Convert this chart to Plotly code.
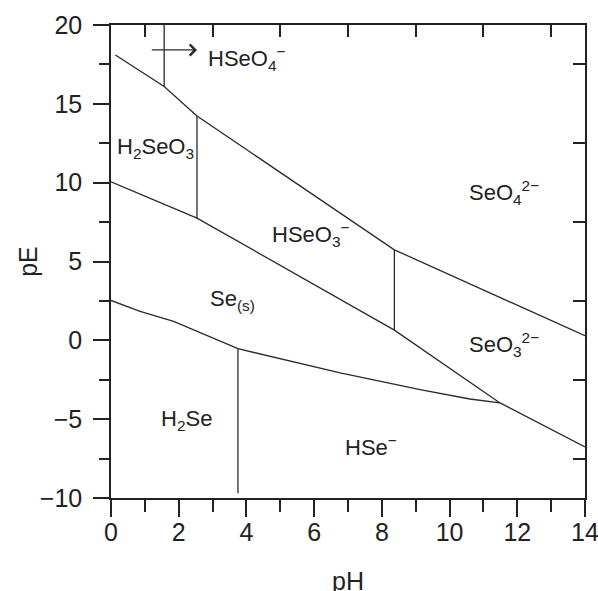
import plotly.graph_objects as go

# ---- data (pH, pE) ----
upper_ph = [0.13, 1.57, 2.54, 8.37, 14.0]
upper_pe = [18.1, 16.1, 14.23, 5.74, 0.29]

middle_ph = [0.0, 2.54, 8.37, 11.49, 14.0]
middle_pe = [10.05, 7.75, 0.65, -3.97, -6.76]

lower_ph = [0.0, 0.86, 1.85, 3.75, 6.77, 9.13, 10.6, 11.49]
lower_pe = [2.53, 1.83, 1.2, -0.53, -2.07, -3.13, -3.72, -3.97]

# vertical boundaries
vert_ph = [1.57, 2.54, 8.37, 3.75]
vert_lo = [16.1, 7.75, 0.65, -9.7]
vert_hi = [20.0, 14.23, 5.74, -0.53]

# arrow toward HSeO4- field
arrow_ph = [1.16, 2.54]
arrow_pe = 18.42

# species labels (left edge pH, centre pE)
label_text = [
    "HSeO<sub>4</sub><sup>−</sup>",
    "H<sub>2</sub>SeO<sub>3</sub>",
    "SeO<sub>4</sub><sup>2−</sup>",
    "HSeO<sub>3</sub><sup>−</sup>",
    "Se<sub>(s)</sub>",
    "SeO<sub>3</sub><sup>2−</sup>",
    "H<sub>2</sub>Se",
    "HSe<sup>−</sup>",
]
label_ph = [2.80, 0.13, 10.51, 4.70, 2.87, 10.51, 1.43, 6.84]
label_pe = [17.9, 12.2, 9.35, 6.69, 2.57, -0.28, -5.03, -6.68]

x_major = [0, 2, 4, 6, 8, 10, 12, 14]
x_minor = [1, 3, 5, 7, 9, 11, 13]
y_major = [-10, -5, 0, 5, 10, 15, 20]
y_minor = [-7.5, -2.5, 2.5, 7.5, 12.5, 17.5]

FONT = "Liberation Sans, Arial, Helvetica, sans-serif"
INK = "#222222"
LINE = "#2a2a2a"

fig = go.Figure()
line_style = dict(color=LINE, width=1.3)
for xs, ys in [(upper_ph, upper_pe), (middle_ph, middle_pe), (lower_ph, lower_pe)]:
    fig.add_trace(go.Scatter(x=xs, y=ys, mode="lines", line=line_style,
                             showlegend=False, hoverinfo="skip"))
for xv, lo, hi in zip(vert_ph, vert_lo, vert_hi):
    fig.add_trace(go.Scatter(x=[xv, xv], y=[lo, hi], mode="lines", line=line_style,
                             showlegend=False, hoverinfo="skip"))
# dummy trace for the mirrored top/right axes
fig.add_trace(go.Scatter(x=[None], y=[None], xaxis="x2", yaxis="y2",
                         showlegend=False, hoverinfo="skip"))

ann = []
for t, xv, yv in zip(label_text, label_ph, label_pe):
    ann.append(dict(x=xv, y=yv, xref="x", yref="y", text=t, showarrow=False,
                    xanchor="left", yanchor="middle",
                    font=dict(family=FONT, size=22, color=INK)))
ann.append(dict(x=arrow_ph[1], y=arrow_pe, ax=arrow_ph[0], ay=arrow_pe,
                xref="x", yref="y", axref="x", ayref="y", text="",
                showarrow=True, arrowhead=4, arrowsize=1.8, arrowwidth=1.2,
                arrowcolor=LINE))
ann.append(dict(x=0.5, y=-0.1747, xref="paper", yref="paper", text="pH",
                showarrow=False, xanchor="center", yanchor="middle",
                font=dict(family=FONT, size=25, color=INK)))
ann.append(dict(x=-0.1765, y=0.5, xref="paper", yref="paper", text="pE",
                showarrow=False, xanchor="center", yanchor="middle", textangle=-90,
                font=dict(family=FONT, size=25, color=INK)))

axis_common = dict(showgrid=False, zeroline=False, showline=True, automargin=False,
                   linecolor=INK, linewidth=1.5, tickcolor=INK, tickwidth=1.5)

fig.update_layout(
    width=598, height=591,
    margin=dict(l=111, r=13, t=25, b=93, autoexpand=False),
    paper_bgcolor="white", plot_bgcolor="white",
    font=dict(family=FONT, color=INK),
    annotations=ann,
    xaxis=dict(range=[0, 14], tickvals=x_major, ticks="outside", ticklen=17,
               ticklabeloverflow="allow", ticklabelstandoff=-6,
               tickfont=dict(family=FONT, size=25, color=INK),
               minor=dict(tickvals=x_minor, ticks="outside", ticklen=12,
                          tickcolor=INK, tickwidth=1.5),
               **axis_common),
    yaxis=dict(range=[-10, 20], tickvals=y_major, ticks="outside", ticklen=16,
               ticklabeloverflow="allow", ticklabelstandoff=6,
               tickfont=dict(family=FONT, size=25, color=INK),
               minor=dict(tickvals=y_minor, ticks="outside", ticklen=10,
                          tickcolor=INK, tickwidth=1.5),
               **axis_common),
    xaxis2=dict(range=[0, 14], overlaying="x", side="top", tickvals=x_minor,
                ticks="inside", ticklen=12, showticklabels=False, **axis_common),
    yaxis2=dict(range=[-10, 20], overlaying="y", side="right", tickvals=y_minor,
                ticks="inside", ticklen=12, showticklabels=False, **axis_common),
)

fig.write_html(
    "out.html",
    config={"displayModeBar": False},
    post_script="document.body.style.margin='0';document.body.style.overflow='hidden';",
)
